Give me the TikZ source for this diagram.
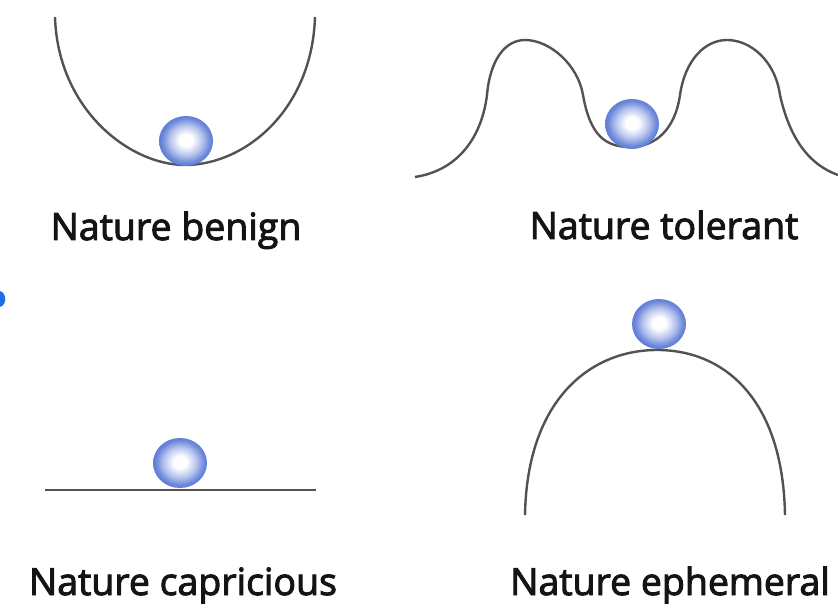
\documentclass[tikz,border=0pt]{standalone}
\usepackage{fontspec}
\newfontfamily\labfont{Open Sans}[FakeBold=2.6]
\definecolor{ballblue}{RGB}{95,125,215}
\definecolor{markblue}{RGB}{30,110,230}
\pgfdeclareradialshading{ballsh}{\pgfpoint{0bp}{1bp}}{%
  color(0bp)=(white); color(6bp)=(white); color(15bp)=(ballblue!45!white);
  color(22bp)=(ballblue!90!white); color(25bp)=(ballblue); color(50bp)=(ballblue)}
\begin{document}
\begin{tikzpicture}[x=1pt,y=-1pt,
  curve/.style={draw=black!68, line width=2.4pt},
  ballshade/.style={shading=ballsh},
  lab/.style={anchor=base, font=\fontsize{37.5}{42}\labfont, text=black!92, inner sep=0pt}]
\useasboundingbox (0,0) rectangle (838,604);
% Nature benign
\draw[curve] (55,17) .. controls (58,110) and (130,165) .. (185,165) .. controls (245,165) and (312,110) .. (315,17);
\shade[ballshade] (186,141) ellipse [x radius=27, y radius=25];
\node[lab] (benign) at (176,240) {Nature benign};
% Nature tolerant
\draw[curve] (415,177) .. controls (460,170) and (482,135) .. (487,95)
  .. controls (490,60) and (505,40) .. (525,40)
  .. controls (550,40) and (578,65) .. (583,95)
  .. controls (590,135) and (605,147) .. (630,147)
  .. controls (655,147) and (675,130) .. (680,95)
  .. controls (685,60) and (705,40) .. (727,40)
  .. controls (750,40) and (775,60) .. (780,95)
  .. controls (790,140) and (810,165) .. (838,175);
\shade[ballshade] (632,124) ellipse [x radius=27, y radius=25];
\node[lab] (tolerant) at (664,239) {Nature tolerant};
% small blue mark
\fill[markblue] (0,291) .. controls (7,293) and (7,305) .. (0,307) -- cycle;
% Nature capricious
\draw[curve] (45,490) -- (316,490);
\shade[ballshade] (180,463) ellipse [x radius=27, y radius=25];
\node[lab] (capricious) at (183,595) {Nature capricious};
% Nature ephemeral
\draw[curve] (525,515) .. controls (527,400) and (590,350) .. (657,350) .. controls (725,350) and (783,400) .. (785,515);
\shade[ballshade] (659,324) ellipse [x radius=27, y radius=25];
\node[lab] (ephemeral) at (670,595) {Nature ephemeral};
\end{tikzpicture}
\end{document}
